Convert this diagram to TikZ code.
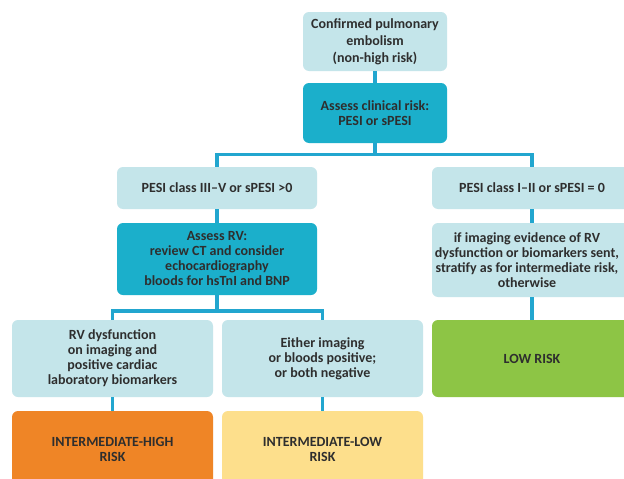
\documentclass[tikz,border=0pt]{standalone}
\usepackage{fontspec}
\setmainfont{Carlito}
\definecolor{lightteal}{HTML}{C4E5EA}
\definecolor{teal2}{HTML}{1BAFCB}
\definecolor{linecol}{HTML}{22A6CF}
\definecolor{orangebox}{HTML}{EF8526}
\definecolor{yellowbox}{HTML}{FDDF8C}
\definecolor{greenbox}{HTML}{8DC545}
\definecolor{txt}{HTML}{2E2E2E}
\tikzset{
  box/.style={rounded corners=6pt, inner sep=0pt, align=center, text=txt,
    font=\bfseries\fontsize{14}{15}\selectfont},
  lightbox/.style={box, fill=lightteal},
  darkbox/.style={box, fill=teal2},
  conn/.style={draw=linecol, line width=3.5pt}
}
\begin{document}
\begin{tikzpicture}[x=1pt,y=-1pt]
\useasboundingbox (0,0) rectangle (624,479);
\fill[white] (0,0) rectangle (624,479);
\begin{scope}
\clip (0,0) rectangle (624,479);
% nodes
\node[lightbox, minimum width=144pt, minimum height=59pt, font=\bfseries\fontsize{14}{17}\selectfont] (b1) at (375,41.5) {Confirmed pulmonary\\embolism\\(non-high risk)};
\node[darkbox, minimum width=144pt, minimum height=60pt] (b2) at (375,113) {Assess clinical risk:\\PESI or sPESI};
\node[lightbox, minimum width=200pt, minimum height=42pt] (p1) at (217,188) {PESI class III–V or sPESI >0};
\node[darkbox, minimum width=200pt, minimum height=72pt] (rv) at (217,259) {Assess RV:\\review CT and consider\\echocardiography\\bloods for hsTnI and BNP};
\node[lightbox, minimum width=200pt, minimum height=42pt] (p2) at (532,188) {PESI class I–II or sPESI = 0};
\node[lightbox, minimum width=200pt, minimum height=74pt] (im) at (532,260) {};
\node[box, anchor=center] (imt) at (527,260) {if imaging evidence of RV\\dysfunction or biomarkers sent,\\stratify as for intermediate risk,\\otherwise};
\node[box, fill=greenbox, minimum width=200pt, minimum height=77pt] (low) at (532,358.5) {LOW RISK};
\node[lightbox, minimum width=201pt, minimum height=77pt] (dys) at (112.5,358.5) {RV dysfunction\\on imaging and\\positive cardiac\\laboratory biomarkers};
\node[lightbox, minimum width=201pt, minimum height=77pt] (eith) at (322.5,358.5) {Either imaging\\or bloods positive;\\or both negative};
\node[box, fill=orangebox, minimum width=201pt, minimum height=77pt] (ih) at (112.5,449.5) {INTERMEDIATE-HIGH\\RISK};
\node[box, fill=yellowbox, minimum width=201pt, minimum height=77pt] (il) at (322.5,449.5) {INTERMEDIATE-LOW\\RISK};
% connectors
\coordinate (j1) at (375,154.5);
\coordinate (j2) at (217,311);
\draw[conn] (b1) -- (b2);
\draw[conn] (b2.south) -- (j1);
\draw[conn] (p1.north) |- (j1) -| (p2.north);
\draw[conn] (p1) -- (rv);
\draw[conn] (rv.south) -- (j2);
\draw[conn] (dys.north) |- (j2) -| (eith.north);
\draw[conn] (p2) -- (im);
\draw[conn] (im) -- (low);
\draw[conn] (dys) -- (ih);
\draw[conn] (eith) -- (il);
\end{scope}
\end{tikzpicture}
\end{document}
